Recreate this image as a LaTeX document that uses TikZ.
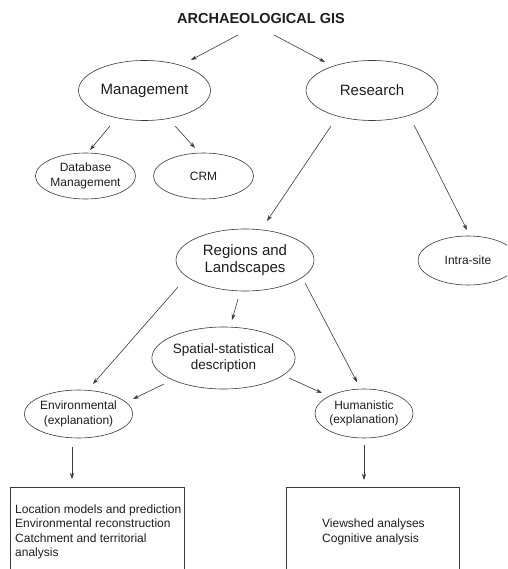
\documentclass[tikz,border=0pt]{standalone}
\usepackage{fontspec}
\setmainfont{Liberation Sans}
\usetikzlibrary{shapes.geometric,arrows.meta}
\definecolor{ln}{HTML}{3A3A3A}
\definecolor{tx}{HTML}{1E1E1E}
\tikzset{
  x=1pt,y=1pt,
  oval/.style={ellipse,draw=ln,line width=0.6pt,inner sep=0pt,align=center,text=tx},
  big/.style={oval,font=\fontsize{15}{17.7}\selectfont},
  mid/.style={oval,font=\fontsize{13.5}{16}\selectfont},
  small/.style={oval,font=\fontsize{12}{14.3}\selectfont},
  arr/.style={draw=ln,line width=0.6pt,-{Stealth[length=6pt,width=4pt]}},
  panel/.style={draw=ln,line width=0.6pt,rectangle,inner sep=0pt},
  boxtext/.style={align=left,inner sep=0pt,text=tx,font=\fontsize{12}{14.5}\selectfont},
}
\begin{document}
\begin{tikzpicture}
\useasboundingbox (0,0) rectangle (507,-569);
\clip (0,0) rectangle (507,-569);
\fill[white] (0,0) rectangle (507,-569);
\node[anchor=base,inner sep=0pt,text=tx,font=\fontsize{14.5}{16}\selectfont\bfseries] (title) at (261,-24) {ARCHAEOLOGICAL GIS};
\node[big,minimum width=132,minimum height=60] (mgmt) at (144.5,-90.5) {Management};
\node[big,minimum width=132,minimum height=60] (research) at (372,-90.5) {Research};
\node[small,minimum width=100,minimum height=46] (db) at (85.5,-176) {Database\\Management};
\node[small,minimum width=100,minimum height=46] (crm) at (203.5,-176) {CRM};
\node[big,minimum width=138,minimum height=62] (regions) at (245,-260) {Regions and\\Landscapes};
\node[small,minimum width=100,minimum height=49] (intra) at (468,-260.5) {Intra-site};
\node[mid,minimum width=138,minimum height=62] (spatial) at (223.5,-358) {Spatial-statistical\\description};
\node[small,minimum width=98,minimum height=48] (env) at (78.5,-414) {Environmental\\(explanation)};
\node[small,minimum width=98,minimum height=49] (hum) at (364,-413.5) {Humanistic\\(explanation)};
\node[panel,anchor=north,minimum width=174,minimum height=120] (box1) at (97,-487) {};
\node[panel,anchor=north,minimum width=173,minimum height=120] (box2) at (372.5,-487) {};
\node[boxtext,anchor=north west] (t1) at (15,-504.5) {Location models and prediction\\Environmental reconstruction\\Catchment and territorial\\analysis};
\node[boxtext,anchor=north west] (t2) at (322,-519) {Viewshed analyses\\Cognitive analysis};
\draw[arr] ([xshift=-23pt,yshift=-11pt]title.base) -- ([xshift=46.5pt,yshift=30.5pt]mgmt.center);
\draw[arr] ([xshift=13pt,yshift=-11pt]title.base) -- ([xshift=-47pt,yshift=28.5pt]research.center);
\draw[arr] ([xshift=-34.5pt,yshift=-35.5pt]mgmt.center) -- ([xshift=4.5pt,yshift=26pt]db.center);
\draw[arr] ([xshift=30.5pt,yshift=-35.5pt]mgmt.center) -- ([xshift=-8.5pt,yshift=28pt]crm.center);
\draw[arr] ([xshift=-41pt,yshift=-35.5pt]research.center) -- ([xshift=22pt,yshift=39pt]regions.center);
\draw[arr] ([xshift=42pt,yshift=-34.5pt]research.center) -- ([xshift=-1pt,yshift=30.5pt]intra.center);
\draw[arr] ([xshift=-67pt,yshift=-27pt]regions.center) -- ([xshift=14.5pt,yshift=30pt]env.center);
\draw[arr] ([xshift=-7pt,yshift=-39pt]regions.center) -- ([xshift=8.5pt,yshift=38pt]spatial.center);
\draw[arr] ([xshift=60pt,yshift=-23pt]regions.center) -- ([xshift=-7pt,yshift=31.5pt]hum.center);
\draw[arr] ([xshift=-59.5pt,yshift=-26pt]spatial.center) -- ([xshift=54.5pt,yshift=15pt]env.center);
\draw[arr] ([xshift=65.5pt,yshift=-20pt]spatial.center) -- ([xshift=-42pt,yshift=20.5pt]hum.center);
\draw[arr] ([xshift=-6.5pt,yshift=-33pt]env.center) -- ([xshift=-25pt,yshift=8pt]box1.north);
\draw[arr] ([yshift=-31.5pt]hum.center) -- ([xshift=-8.5pt,yshift=7pt]box2.north);
\end{tikzpicture}
\end{document}
